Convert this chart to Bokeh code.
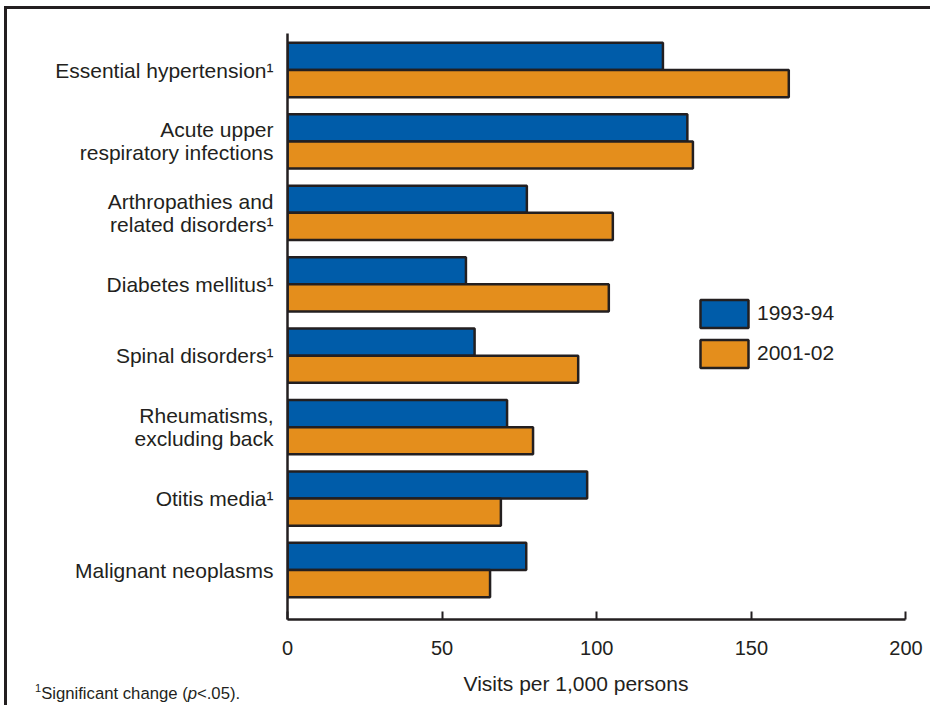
from bokeh.plotting import figure
from bokeh.layouts import column
from bokeh.models import Legend, LegendItem, Title, Div, FixedTicker, ColumnDataSource
from bokeh.embed import file_html
from bokeh.resources import INLINE

# ---- data ----
categories = [
    "Essential hypertension¹",
    "Acute upper\nrespiratory infections",
    "Arthropathies and\nrelated disorders¹",
    "Diabetes mellitus¹",
    "Spinal disorders¹",
    "Rheumatisms,\nexcluding back",
    "Otitis media¹",
    "Malignant neoplasms",
]
visits_1993_94 = [121.4, 129.3, 77.4, 57.7, 60.5, 71.0, 96.9, 77.2]
visits_2001_02 = [162.1, 131.1, 105.2, 103.9, 94.0, 79.4, 69.0, 65.5]
series_names = ["1993-94", "2001-02"]
x_ticks = [0, 50, 100, 150, 200]
x_title = "Visits per 1,000 persons"
footnote_html = "<sup style='font-size:11px'>1</sup>Significant change (<i>p</i>&lt;.05)."

# ---- style ----
BLUE = "#005ca9"
ORANGE = "#e48e1c"
INK = "#231f20"
FONT = "Liberation Sans"
BAR_H = 0.38
LW = 2.5

n = len(categories)
pos = [n - 1 - i for i in range(n)]
src = ColumnDataSource(dict(
    y_a=[p + BAR_H / 2 for p in pos],
    y_b=[p - BAR_H / 2 for p in pos],
    a=visits_1993_94,
    b=visits_2001_02,
))

Y0, Y1 = -0.693, 7.511
p = figure(width=926, height=699, x_range=(0, 205.66), y_range=(Y0, Y1),
           output_backend="svg", toolbar_location=None,
           min_border_left=280, min_border_right=10, min_border_top=24, min_border_bottom=89)
p.styles = {"margin-left": "4px", "margin-top": "6px",
            "border-left": f"3px solid {INK}", "border-top": f"3px solid {INK}"}
p.outline_line_color = None
p.grid.visible = False
p.background_fill_color = "white"

r_a = p.hbar(y="y_a", left=0, right="a", height=BAR_H, source=src,
             fill_color=BLUE, line_color=INK, line_width=LW)
r_b = p.hbar(y="y_b", left=0, right="b", height=BAR_H, source=src,
             fill_color=ORANGE, line_color=INK, line_width=LW)

# x axis
xa = p.xaxis[0]
xa.ticker = FixedTicker(ticks=x_ticks)
xa.bounds = (x_ticks[0], x_ticks[-1])
xa.axis_line_color = INK
xa.axis_line_width = LW
xa.major_tick_in = 8
xa.major_tick_out = 0
xa.major_tick_line_color = INK
xa.major_tick_line_width = 2
xa.minor_tick_line_color = None
xa.major_label_text_font = FONT
xa.major_label_text_font_size = "20px"
xa.major_label_text_color = INK
xa.major_label_standoff = 21

# y axis
ya = p.yaxis[0]
ya.ticker = FixedTicker(ticks=pos)
ya.major_label_overrides = {pp: c for pp, c in zip(pos, categories)}
ya.axis_line_color = INK
ya.axis_line_width = LW
ya.major_tick_line_color = None
ya.minor_tick_line_color = None
ya.major_label_text_font = FONT
ya.major_label_text_font_size = "21px"
ya.major_label_text_color = INK
ya.major_label_text_line_height = 1.0
ya.major_label_standoff = 8

# x axis title (as a title panel below the axis, left-offset like the original)
p.add_layout(Title(text=x_title, align="left", offset=176, vertical_align="bottom",
                   standoff=25, text_font=FONT, text_font_size="21px",
                   text_font_style="normal", text_color=INK), "below")

legend = Legend(items=[LegendItem(label=series_names[0], renderers=[r_a]),
                       LegendItem(label=series_names[1], renderers=[r_b])],
                location=(407, 248.5), orientation="vertical",
                glyph_width=60, glyph_height=35, label_height=35, spacing=5,
                label_standoff=3, padding=0, margin=0,
                border_line_color=None, background_fill_alpha=0,
                label_text_font=FONT, label_text_font_size="21px", label_text_color=INK)
p.add_layout(legend)

note = Div(text=f"<div style=\"font-family:'Liberation Sans';font-size:16.7px;line-height:19px;"
                f"color:{INK};white-space:nowrap;\">{footnote_html}</div>",
           styles={"position": "absolute", "left": "30px", "top": "674px"})

open("out.html", "w").write(file_html(column(p, note), INLINE))
